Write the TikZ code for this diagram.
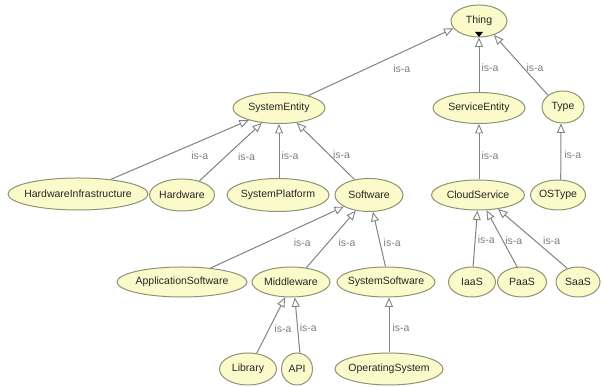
\documentclass[tikz,border=0pt]{standalone}
\usepackage{fontspec}
\setmainfont{Liberation Sans}
\usetikzlibrary{shapes.geometric,arrows.meta}
\definecolor{clsfill}{RGB}{250,250,203}
\definecolor{clsdraw}{RGB}{145,145,115}
\definecolor{edgecol}{RGB}{130,130,130}
\definecolor{lblcol}{RGB}{125,125,125}
\tikzset{
  cls/.style={ellipse, draw=clsdraw, fill=clsfill, line width=1pt, inner xsep=-30pt, inner ysep=0pt,
    minimum height=31pt, font=\fontsize{10.5}{12}\selectfont, text=black!85},
  isa/.style={draw=edgecol, line width=1pt,
    -{Triangle[open, length=9.5pt, width=8pt, line width=0.9pt]}},
  lbl/.style={font=\fontsize{10.5}{12}\selectfont, text=lblcol, inner sep=0pt}
}
\begin{document}
\begin{tikzpicture}[x=1pt,y=1pt]
\useasboundingbox (0,0) rectangle (603,387);
% nodes
\node[cls, minimum width=56pt, minimum height=32pt] (thing) at (479,366) {Thing};
\node[cls, minimum width=92pt] (sysent) at (279,279) {SystemEntity};
\node[cls, minimum width=92pt] (servent) at (479,279) {ServiceEntity};
\node[cls, minimum width=42pt, minimum height=32pt] (type) at (563,280) {Type};
\node[cls, minimum width=140pt, minimum height=32pt] (hwinf) at (78,193) {HardwareInfrastructure};
\node[cls, minimum width=65pt, minimum height=32pt] (hw) at (182,192) {Hardware};
\node[cls, minimum width=102pt, minimum height=33pt] (sysplat) at (278,192) {SystemPlatform};
\node[cls, minimum width=68pt, minimum height=33pt] (sw) at (369,192) {Software};
\node[cls, minimum width=93pt, minimum height=30pt] (cloud) at (478,192) {CloudService};
\node[cls, minimum width=55pt, minimum height=30pt] (ostype) at (558,192) {OSType};
\node[cls, minimum width=130pt, minimum height=30pt] (appsw) at (182,105) {ApplicationSoftware};
\node[cls, minimum width=78pt, minimum height=30pt] (mw) at (291,105) {Middleware};
\node[cls, minimum width=98pt, minimum height=30pt] (syssw) at (386,105) {SystemSoftware};
\node[cls, minimum width=47pt, minimum height=30pt] (iaas) at (472,105) {IaaS};
\node[cls, minimum width=49pt, minimum height=30pt] (paas) at (522,105) {PaaS};
\node[cls, minimum width=44pt, minimum height=30pt] (saas) at (578,105) {SaaS};
\node[cls, minimum width=57pt, minimum height=32pt] (lib) at (248,18) {Library};
\node[cls, minimum width=31pt, minimum height=32pt] (api) at (297,18) {API};
\node[cls, minimum width=108pt, minimum height=32pt] (os) at (389,18) {OperatingSystem};
% small marker in Thing
\fill (thing.center) ++(-4,-11) -- ++(8,0) -- ++(-4,-5) -- cycle;
% edges
\draw[isa] (sysent.23) -- (thing.196) node[lbl, pos=0.5, xshift=21, yshift=-7] (l1) {is-a};
\draw[isa] (servent.north) -- (thing.south) node[lbl, pos=0.5, xshift=11, yshift=-3] (l2) {is-a};
\draw[isa] (type.142) -- (thing.317) node[lbl, pos=0.5, xshift=14, yshift=-3] (l3) {is-a};
\draw[isa] (hwinf.24) -- (sysent.202) node[lbl, pos=0.5, xshift=20, yshift=-6] (l4) {is-a};
\draw[isa] (hw.39) -- (sysent.221) node[lbl, pos=0.5, xshift=16, yshift=-5] (l5) {is-a};
\draw[isa] (sysplat.north -| sysent.south) -- (sysent.south) node[lbl, pos=0.5, xshift=11, yshift=-5] (l6) {is-a};
\draw[isa] (sw.133) -- (sysent.320) node[lbl, pos=0.5, xshift=16, yshift=-4] (l7) {is-a};
\draw[isa] (cloud.north -| servent.south) -- (servent.south) node[lbl, pos=0.5, xshift=11, yshift=-4] (l8) {is-a};
\draw[isa] (ostype.80) -- (type.263) node[lbl, pos=0.5, xshift=12, yshift=-3] (l9) {is-a};
\draw[isa] (appsw.26) -- (sw.205) node[lbl, pos=0.5, xshift=25, yshift=-5] (l10) {is-a};
\draw[isa] (mw.43) -- (sw.230) node[lbl, pos=0.5, xshift=16, yshift=-4] (l11) {is-a};
\draw[isa] (syssw.92) -- (sw.283) node[lbl, pos=0.5, xshift=13, yshift=-4] (l12) {is-a};
\draw[isa] (iaas.86) -- (cloud.268) node[lbl, pos=0.5, xshift=11, yshift=-1] (l13) {is-a};
\draw[isa] (paas.108) -- (cloud.299) node[lbl, pos=0.5, xshift=12, yshift=-2] (l14) {is-a};
\draw[isa] (saas.128) -- (cloud.325) node[lbl, pos=0.5, xshift=19, yshift=-2] (l15) {is-a};
\draw[isa] (lib.61) -- (mw.249) node[lbl, pos=0.5, xshift=12, yshift=-3] (l16) {is-a};
\draw[isa] (api.80) -- (mw.284) node[lbl, pos=0.5, xshift=11, yshift=-3] (l17) {is-a};
\draw[isa] (os.north) -- (os.north |- syssw.south) node[lbl, pos=0.5, xshift=12, yshift=-3] (l18) {is-a};
\end{tikzpicture}
\end{document}
